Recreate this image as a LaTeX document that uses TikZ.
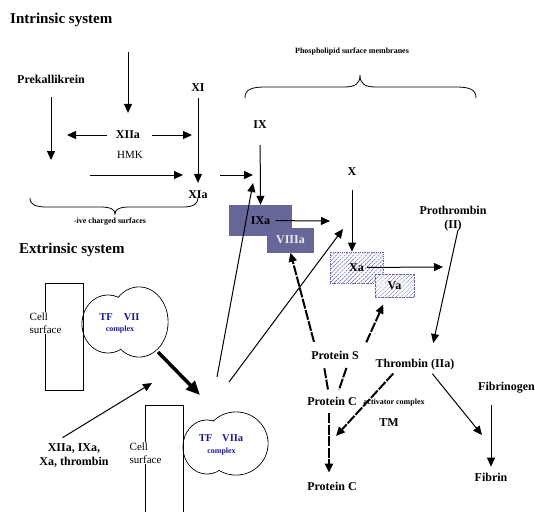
\documentclass[tikz,border=0pt]{standalone}
\usepackage{fontspec}
\setmainfont{Liberation Serif}
\usetikzlibrary{arrows.meta,patterns.meta}
\definecolor{boxblue}{RGB}{102,102,153}
\definecolor{cplxblue}{RGB}{26,26,140}
\definecolor{hatchblue}{RGB}{100,100,170}
\tikzset{
  lbl/.style={font=\bfseries\fontsize{12}{14}\selectfont, inner sep=1pt, text depth=0pt},
  ttl/.style={font=\bfseries\fontsize{15}{17}\selectfont, anchor=west, inner sep=0pt},
  note/.style={font=\bfseries\fontsize{8}{9}\selectfont, inner sep=0pt},
  celltxt/.style={font=\fontsize{11}{12.5}\selectfont, align=left, anchor=west, fill=white, inner sep=0.5pt},
  cplx/.style={text=cplxblue, font=\bfseries\fontsize{10.5}{12}\selectfont, inner sep=0pt},
  cplxsub/.style={text=cplxblue, font=\bfseries\fontsize{8}{9}\selectfont, inner sep=0pt},
  solidbox/.style={fill=boxblue, inner sep=0pt, font=\bfseries\fontsize{12}{14}\selectfont},
  hatchbox/.style={preaction={fill=white},
    pattern={Lines[angle=45,distance=3pt,line width=0.8pt]}, pattern color=hatchblue,
    draw=hatchblue, densely dotted, inner sep=0pt, font=\bfseries\fontsize{12}{14}\selectfont},
  arr/.style={->, line width=1pt},
  pro/.style={line width=2pt, dash pattern=on 10pt off 1.5pt},
}
\begin{document}
\begin{tikzpicture}[x=1pt, y=-1pt, >={Triangle[length=9pt,width=8pt]}]
  \useasboundingbox (0,0) rectangle (535,511);
  \clip (0,0) rectangle (535,511);

  % intrinsic system
  \node[ttl] (intr) at (10,20) {Intrinsic system};
  \node[lbl] (Prek) at (51,79) {Prekallikrein};
  \node[lbl] (XI) at (198,88) {XI};
  \node[lbl] (XIIa) at (128,135) {XIIa};
  \node[font=\fontsize{11}{12}\selectfont, inner sep=1pt] (HMK) at (130,155) {HMK};
  \node[lbl] (XIa) at (198,195) {XIa};
  \node[note] (neg) at (110,222) {-ive charged surfaces};

  \coordinate (c-top) at (128,52);
  \coordinate (c-left) at (67,135);
  \coordinate (c-right) at (192,135);
  \coordinate (c-pk) at (51,160);
  \coordinate (c-xa1) at (90,175);
  \coordinate (c-xa2) at (183,175);
  \coordinate (c-ix1) at (220,175);
  \coordinate (c-ix2) at (253,175);

  \draw[arr, shorten >=17pt] (c-top) -- (XIIa.north);
  \draw[arr, shorten <=8pt] (XIIa.west) -- (c-left);
  \draw[arr, shorten <=11pt] (XIIa.east) -- (c-right);
  \draw[arr, shorten <=13pt] (Prek.south) -- (c-pk);
  \draw[arr, shorten <=5pt, shorten >=7pt] (XI) -- (XIa);
  \draw[arr] (c-xa1) -- (c-xa2);
  \draw[arr] (c-ix1) -- (c-ix2);

  \draw[line width=0.8pt] (30,198) .. controls (30,205) and (36,207) .. (47,207) -- (100,207)
    .. controls (110,207) and (115,209) .. (115,214) .. controls (115,209) and (120,207) .. (130,207)
    -- (183,207) .. controls (193,207) and (198,204) .. (198,198);

  % phospholipid surface
  \node[note] (phos) at (352,52) {Phospholipid surface membranes};
  \draw[line width=0.8pt] (245,98) .. controls (245,89) and (252,87) .. (266,87) -- (344,87)
    .. controls (355,87) and (360,84) .. (360,75) .. controls (360,84) and (365,87) .. (376,87)
    -- (455,87) .. controls (469,87) and (476,89) .. (476,98);

  \node[lbl] (IX) at (260,125) {IX};
  \node[lbl] (X) at (352,172) {X};
  \node[lbl, align=center] (Prot) at (453,217.5) {Prothrombin\\(II)};

  \node[solidbox, minimum width=63pt, minimum height=31pt] (IXa) at (260.5,220.5) {IXa};
  \node[solidbox, minimum width=47pt, minimum height=25pt, text=black!8] (VIIIa) at (290.5,240) {VIIIa};
  \node[hatchbox, minimum width=53pt, minimum height=31pt] (Xa) at (356.5,267.5) {Xa};
  \node[hatchbox, minimum width=39pt, minimum height=23pt] (Va) at (394.5,285.5) {Va};

  \coordinate (c-ixa) at (330,221);
  \coordinate (c-xa) at (443,267);

  \draw[arr, shorten <=15pt] (IX) -- (IXa.north);
  \draw[arr, shorten <=13pt] (X) -- (X |- Xa.north);
  \draw[arr, shorten <=15pt] (IXa.center) -- (c-ixa);
  \draw[arr, shorten <=10.5pt] (Xa.center) -- (c-xa);

  \node[lbl] (Thr) at (415,363) {Thrombin (IIa)};
  \draw[arr, shorten >=15pt] ([xshift=5pt]Prot.south) -- ([xshift=15pt]Thr.north);

  \node[lbl] (ProtS) at (335,355) {Protein S};
  \node[lbl] (ProtC) at (332,401) {Protein C};
  \node[note] (actv) at (394,403) {activator complex};
  \node[lbl] (TM) at (389,423) {TM};
  \node[lbl] (ProtCb) at (332,486) {Protein C};
  \node[lbl, anchor=west] (Fgen) at (477,386) {Fibrinogen};
  \node[lbl] (Fib) at (491,477) {Fibrin};

  \coordinate (c-tm) at (336,436);
  \coordinate (c-fb) at (482,435);

  \draw[pro, ->, shorten <=8pt] ([xshift=-19pt]ProtS.north) -- (VIIIa.south);
  \draw[pro, ->, shorten <=8pt, shorten >=8pt] ([xshift=28pt]ProtS.north) -- ([xshift=-8pt]Va.south);
  \draw[pro, shorten <=8pt, shorten >=6pt] ([xshift=-12pt]ProtS.south) -- ([xshift=-3pt]ProtC.north);
  \draw[pro, shorten <=8pt, shorten >=6pt] ([xshift=14pt]ProtS.south) -- ([xshift=5pt]ProtC.north);
  \draw[pro, ->, shorten <=7pt, shorten >=8pt] ([xshift=-3pt]ProtC.south) -- ([xshift=-3pt]ProtCb.north);
  \draw[pro, ->, shorten <=7pt] ([xshift=-17pt]Thr.south) -- (c-tm);
  \draw[arr, shorten <=7pt] ([xshift=13pt]Thr.south) -- (c-fb);
  \draw[arr, shorten <=14pt, shorten >=5pt] (Fgen.south -| Fib) -- (Fib.north);

  % extrinsic system
  \node[ttl] (extr) at (19,250) {Extrinsic system};

  \foreach \cx/\cy/\rx/\ry in {108/324/26/29, 139/322/29/35, 207/447/24/27, 236/443.5/32/31.5}
    \draw[line width=0.9pt] (\cx,\cy) ellipse [x radius=\rx pt, y radius=\ry pt];
  \foreach \cx/\cy/\rx/\ry in {108/324/26/29, 139/322/29/35, 207/447/24/27, 236/443.5/32/31.5}
    \fill[white] (\cx,\cy) ellipse [x radius=\rx pt-0.45pt, y radius=\ry pt-0.45pt];

  \draw[line width=0.8pt] (45,283) rectangle (83,390);
  \draw[line width=0.8pt] (145,405) rectangle (183,520);

  \node[celltxt] (cell1) at (29,323) {Cell\\surface};
  \node[celltxt] (cell2) at (129,453) {Cell\\surface};

  \node[cplx] (tf7) at (119.5,317) {TF\hspace{11pt}VII};
  \node[cplxsub] (cx7) at (120,330) {complex};
  \node[cplx] (tf7a) at (221,438) {TF\hspace{10pt}VIIa};
  \node[cplxsub] (cx7a) at (221.5,452) {complex};

  \node[lbl, align=center] (acts) at (74,455) {XIIa, IXa,\\Xa, thrombin};

  \coordinate (c-tf7) at (158,352);
  \coordinate (c-tf7a) at (200,395);
  \coordinate (c-act) at (152,383);
  \coordinate (c-e1) at (217,377);
  \coordinate (c-e1t) at (253,183);
  \coordinate (c-e2) at (229,382);
  \coordinate (c-e2t) at (343,229);

  \draw[line width=3.5pt, -{Triangle[length=14pt,width=12pt]}] (c-tf7) -- (c-tf7a);
  \draw[arr, shorten <=10pt] ([xshift=-20pt]acts.north) -- (c-act);
  \draw[arr] (c-e1) -- (c-e1t);
  \draw[arr] (c-e2) -- (c-e2t);
\end{tikzpicture}
\end{document}
